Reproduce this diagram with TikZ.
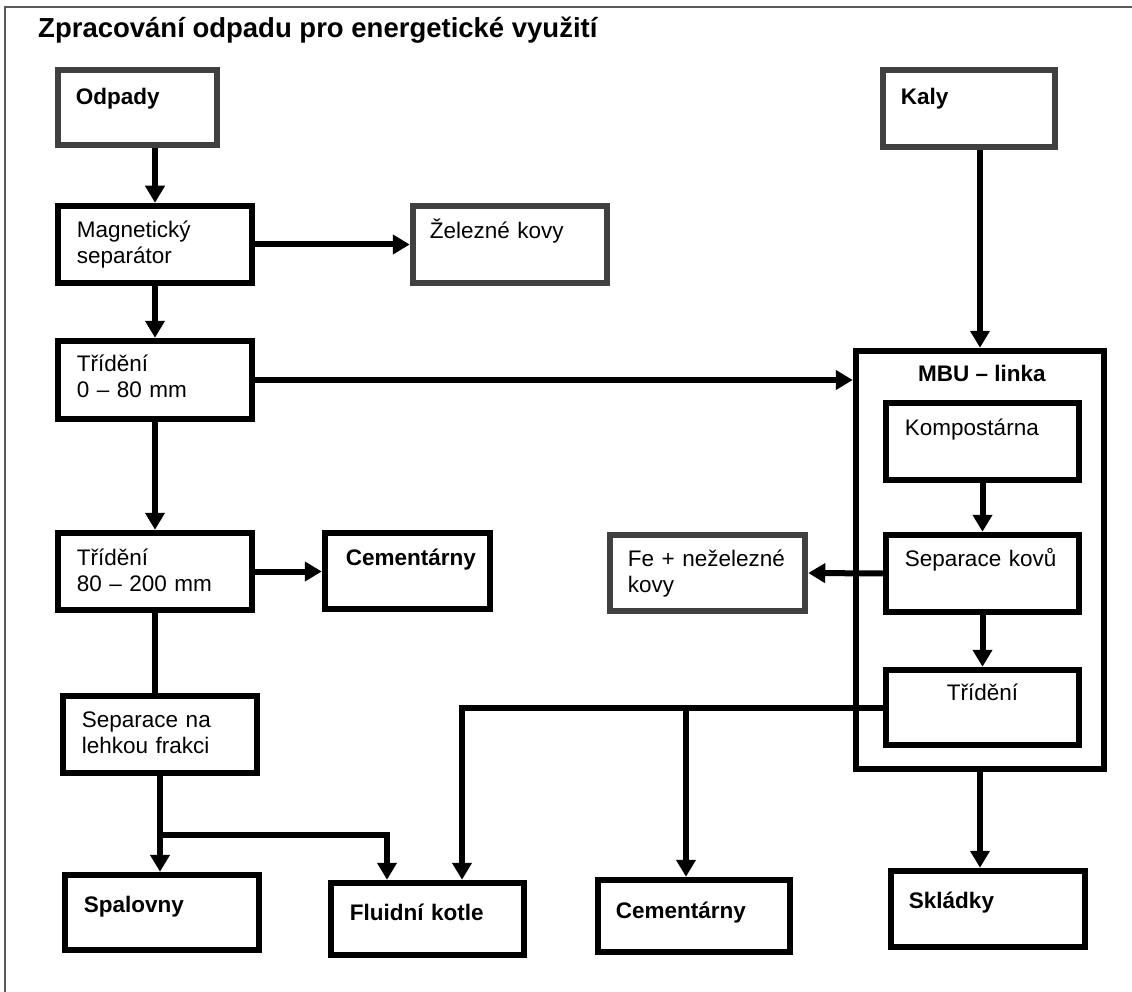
\documentclass[tikz,border=0pt]{standalone}
\usepackage{fontspec}
\setmainfont{Liberation Sans}
\usetikzlibrary{arrows.meta, positioning, calc}
\tikzset{%
	box/.style={draw, rectangle, line width=6.5pt, inner sep=0mm, minimum width=194pt, minimum height=77pt},
	pale/.style={draw=black!75},
	txt/.style={anchor=base west, inner sep=0mm, text width=190pt, align=left, font=\fontsize{22.5}{26}\selectfont},
	boldtxt/.style={font=\fontsize{22.5}{26}\selectfont\bfseries},
	connector/.style={line width=6pt},
	flow/.style={line width=6pt, -{Triangle[length=17pt, width=19pt]}},
	frame/.style={draw=black!65, line width=1.5pt}
}
\begin{document}
\begin{tikzpicture}[x=1pt, y=-1pt]
	\useasboundingbox (0,0) rectangle (1132,992);
	\draw[frame] (1132,7) -- (5,7) -- (5,992);
	\node[anchor=base west, inner sep=0mm, font=\fontsize{27.5}{32}\selectfont\bfseries] (title) at (38,38) {Zpracování odpadu pro energetické využití};

	\node[box, pale, minimum width=159pt, minimum height=75pt] (odp) at (137.5,107.5) {};
	\node[box, pale, minimum width=172pt] (kaly) at (969,108.5) {};
	\node[box] (mag) at (155,244.5) {};
	\node[box, pale] (zel) at (510,244.5) {};
	\node[box, minimum height=78pt] (tr1) at (155,380) {};
	\node[box] (tr2) at (155,571.5) {};
	\node[box, minimum width=165pt, minimum height=76pt] (cem1) at (407.5,571) {};
	\node[box] (sep) at (160,734.5) {};
	\node[box, minimum width=248pt, minimum height=418pt] (mbu) at (980,560) {};
	\node[box, minimum width=193pt] (komp) at (982.5,441.5) {};
	\node[box, minimum width=193pt] (kov) at (982.5,573.5) {};
	\node[box, minimum width=193pt, minimum height=75pt] (tr3) at (982.5,707.5) {};
	\node[box, pale, minimum width=195pt, minimum height=76pt] (fe) at (707.5,573) {};
	\node[box, minimum height=75pt] (spal) at (162,912.5) {};
	\node[box, minimum width=193pt, minimum height=72pt] (flu) at (427.5,919) {};
	\node[box, minimum width=192pt, minimum height=72pt] (cem2) at (694,916) {};
	\node[box, minimum height=76pt] (skl) at (988,909) {};

	\node[txt, boldtxt] at ($(odp.north west)+(21,38)$) {Odpady};
	\node[txt, boldtxt] at ($(kaly.north west)+(21,38)$) {Kaly};
	\node[txt] at ($(mag.north west)+(22,35)$) {Magnetický\\separátor};
	\node[txt] at ($(zel.north west)+(20,36)$) {Železné kovy};
	\node[txt] at ($(tr1.north west)+(22,34)$) {Třídění\\0 – 80 mm};
	\node[txt] at ($(tr2.north west)+(22,36)$) {Třídění\\80 – 200 mm};
	\node[txt, boldtxt] at ($(cem1.north west)+(24,36)$) {Cementárny};
	\node[txt] at ($(sep.north west)+(22,35)$) {Separace na\\lehkou frakci};
	\node[anchor=base, inner sep=0mm, boldtxt] at ($(mbu.north)+(2,34)$) {MBU – linka};
	\node[txt] at ($(komp.north west)+(22,36)$) {Kompostárna};
	\node[txt] at ($(kov.north west)+(22,35)$) {Separace kovů};
	\node[anchor=base, inner sep=0mm, font=\fontsize{22.5}{26}\selectfont] at ($(tr3.north)+(0,34)$) {Třídění};
	\node[txt] at ($(fe.north west)+(21,35)$) {Fe + neželezné\\kovy};
	\node[txt, boldtxt] at ($(spal.north west)+(22,41)$) {Spalovny};
	\node[txt, boldtxt] at ($(flu.north west)+(22,41)$) {Fluidní kotle};
	\node[txt, boldtxt] at ($(cem2.north west)+(21,42)$) {Cementárny};
	\node[txt, boldtxt] at ($(skl.north west)+(21,41)$) {Skládky};

	\coordinate (flul) at ($(flu.north)+(-40.5,0)$);
	\coordinate (flur) at ($(flu.north)+(34.5,0)$);
	\coordinate (cemt) at ($(cem2.north)+(-8,0)$);

	\draw[flow] (mag.north |- odp.south) -- (mag.north);
	\draw[flow] (mag.east) -- (zel.west);
	\draw[flow] (mag.south) -- (tr1.north);
	\draw[flow] (tr1.east) -- (tr1.east -| mbu.west);
	\draw[flow] (kaly.south -| mbu.north) -- (mbu.north);
	\draw[flow] (tr1.south) -- (tr2.north);
	\draw[flow] (tr2.east) -- (tr2.east -| cem1.west);
	\draw[connector] (tr2.south) -- (tr2.south |- sep.north);
	\draw[flow] (sep.south) -- (sep.south |- spal.north);
	\draw[flow] (sep.south |- 0,835) -| (flul);
	\draw[flow] (komp.south) -- (kov.north);
	\draw[flow] (kov.west) -- (fe.east);
	\draw[flow] (kov.south) -- (tr3.north);
	\draw[flow] (tr3.west) -| (flur);
	\draw[flow] (tr3.west -| cemt) -- (cemt);
	\draw[flow] (mbu.south) -- (mbu.south |- skl.north);
\end{tikzpicture}
\end{document}
